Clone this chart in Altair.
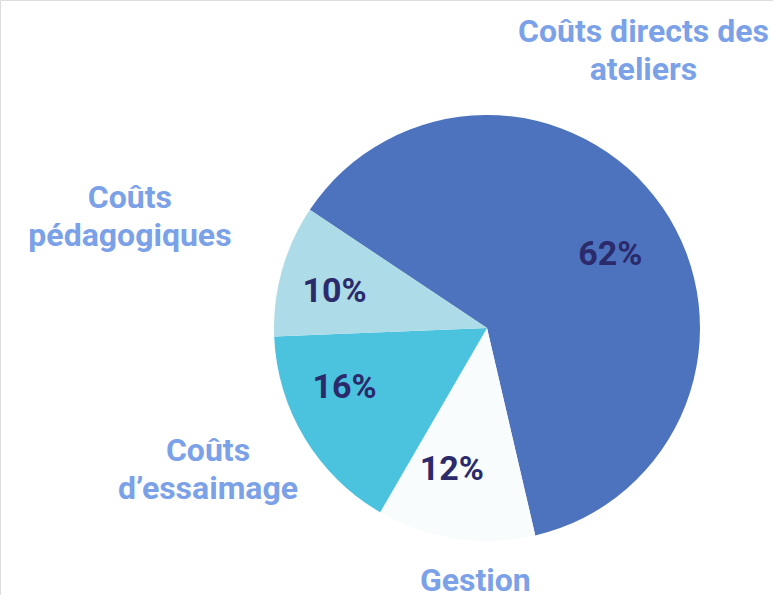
import math
import altair as alt
import pandas as pd

categories = ["Coûts directs des ateliers", "Gestion", "Coûts d’essaimage", "Coûts pédagogiques"]
label_text = ["Coûts directs des\nateliers", "Gestion", "Coûts\nd’essaimage", "Coûts\npédagogiques"]
values = [62, 12, 16, 10]
colors = ["#4E73BE", "#F9FCFC", "#4BC3DF", "#ADDBE7"]

df = pd.DataFrame({
    "cat": categories,
    "label": label_text,
    "value": values,
    "order": list(range(len(values))),
    "pct": [f"{v}%" for v in values],
})

start = math.radians(303.7)
theta_scale = alt.Scale(domain=[0, 100], range=[start - 2 * math.pi, start])

cx, cy, R = 487, 328, 213

pie = alt.Chart(df).mark_arc(outerRadius=R, strokeWidth=0).encode(
    theta=alt.Theta("value:Q", stack=True, scale=theta_scale),
    order=alt.Order("order:Q"),
    x=alt.value(cx),
    y=alt.value(cy),
    color=alt.Color("cat:N", scale=alt.Scale(domain=categories, range=colors), legend=None),
)

txt_base = alt.Chart(df).transform_window(
    cum="sum(value)", sort=[alt.SortField("order")], frame=[None, 0]
).transform_calculate(
    mid="datum.cum - datum.value / 2"
).encode(
    theta=alt.Theta("mid:Q", scale=theta_scale),
    x=alt.value(cx),
    y=alt.value(cy),
)

# label placement styling: (radius, dx, dy)
pct_pos = {
    categories[0]: (150, 0, 12),
    categories[1]: (150, -13, -6),
    categories[2]: (150, -14, -17),
    categories[3]: (150, -8, 5),
}
out_pos = {
    categories[0]: (318, -105, -115),
    categories[1]: (255, 26, 1),
    categories[2]: (313, -11, -39),
    categories[3]: (374, 3, -29),
}

layers = [pie]
for c in categories:
    r, dx, dy = pct_pos[c]
    layers.append(
        txt_base.transform_filter(alt.datum.cat == c).mark_text(
            radius=r, dx=dx, dy=dy, font="Roboto", fontWeight="bold", fontSize=34,
            color="#2B2A6B", align="center", baseline="middle",
        ).encode(text="pct:N")
    )
    r, dx, dy = out_pos[c]
    layers.append(
        txt_base.transform_filter(alt.datum.cat == c).mark_text(
            radius=r, dx=dx, dy=dy, font="Roboto", fontWeight="bold", fontSize=32,
            color="#7BA1E8", align="center", baseline="middle", lineBreak="\n", lineHeight=38,
        ).encode(text="label:N")
    )

chart = alt.layer(*layers).properties(
    width=773, height=595, padding=0,
    autosize=alt.AutoSizeParams(type="none"),
).configure_view(stroke=None).configure(background="white")

chart.save("out.html", embed_options={"renderer": "svg", "actions": False})
